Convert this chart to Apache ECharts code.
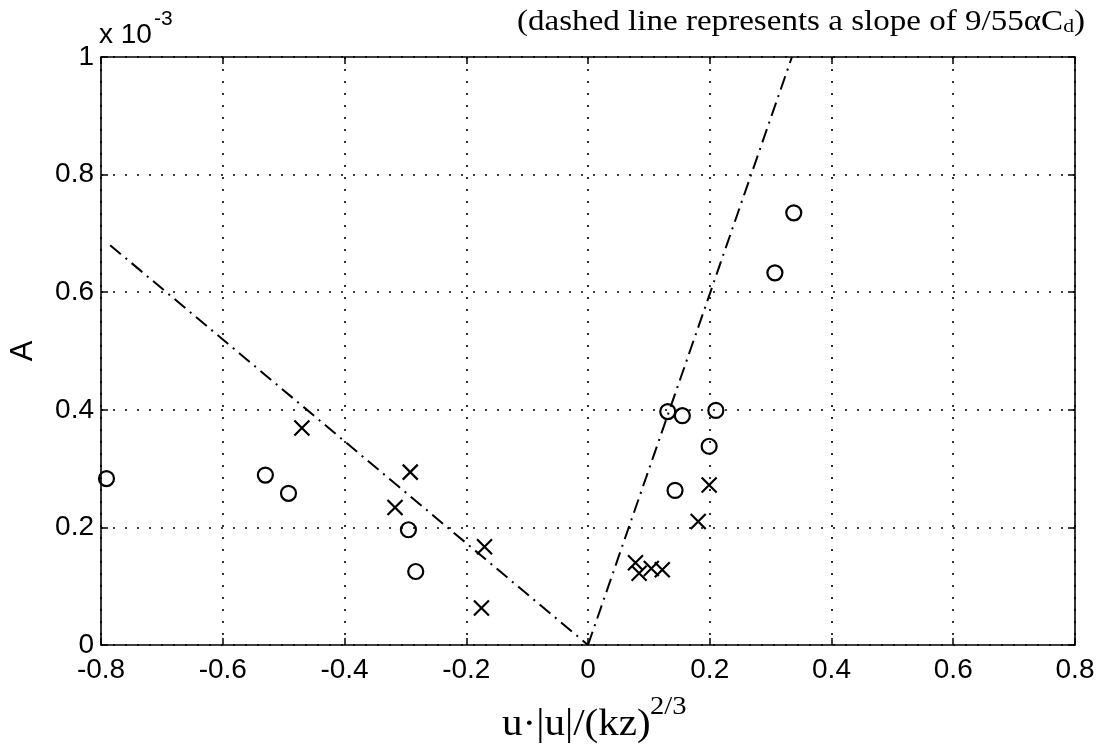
<!DOCTYPE html>
<html>
<head>
<meta charset="utf-8">
<script src="https://cdn.jsdelivr.net/npm/echarts@6/dist/echarts.min.js"></script>
<style>
html,body{margin:0;padding:0;background:#fff;}
#chart{width:1102px;height:752px;}
</style>
</head>
<body>
<div id="chart"></div>
<script>
// Values of A are in units of 1e-3
const xTicks = [-0.8, -0.6, -0.4, -0.2, 0, 0.2, 0.4, 0.6, 0.8];
const yTicks = [0, 0.2, 0.4, 0.6, 0.8, 1];
const circleX = [-0.791, -0.530, -0.492, -0.295, -0.283, 0.131, 0.155, 0.210, 0.199, 0.143, 0.307, 0.338];
const circleY = [0.283, 0.289, 0.258, 0.196, 0.125, 0.397, 0.390, 0.399, 0.338, 0.263, 0.633, 0.735];
const crossX = [-0.470, -0.292, -0.317, -0.170, -0.175, 0.199, 0.181, 0.078, 0.084, 0.104, 0.122];
const crossY = [0.369, 0.294, 0.234, 0.167, 0.063, 0.272, 0.210, 0.140, 0.122, 0.130, 0.128];
const leftLineX = [-0.785, 0];
const leftLineY = [0.680, 0];
const rightLineX = [0, 0.335];
const rightLineY = [0, 1.0];

const zip = (a, b) => a.map((v, i) => [v, b[i]]);

const chart = echarts.init(document.getElementById('chart'), null, {renderer: 'canvas'});
const gridDots = {color: '#000', width: 1.6, type: [2, 10]};
const tickFont = {color: '#000', fontSize: 28, fontFamily: 'Liberation Sans, Arial, sans-serif'};
const tickStyle = {show: true, inside: true, length: 7, lineStyle: {color: '#000', width: 1.5}};
const fmt = v => String(+v.toFixed(1));

chart.setOption({
  animation: false,
  backgroundColor: '#fff',
  grid: {left: 97, right: 27, top: 57, bottom: 107, show: true, borderColor: '#000', borderWidth: 1.6, backgroundColor: 'transparent'},
  xAxis: [{
    type: 'value', min: -0.8, max: 0.8, interval: 0.2,
    axisLine: {show: false, onZero: false},
    axisTick: tickStyle,
    axisLabel: Object.assign({margin: 11, formatter: fmt}, tickFont),
    splitLine: {show: true, lineStyle: gridDots}
  }, {
    type: 'value', position: 'top', min: -0.8, max: 0.8, interval: 0.2,
    axisLine: {show: false, onZero: false},
    axisTick: tickStyle,
    axisLabel: {show: false}, splitLine: {show: false}
  }],
  yAxis: [{
    type: 'value', position: 'left', min: 0, max: 1, interval: 0.2,
    name: 'A', nameLocation: 'middle', nameGap: 62, nameRotate: 90,
    nameTextStyle: {color: '#000', fontSize: 31, fontFamily: 'Liberation Sans, Arial, sans-serif'},
    axisLine: {show: false, onZero: false},
    axisTick: tickStyle,
    axisLabel: Object.assign({margin: 7, formatter: fmt}, tickFont),
    splitLine: {show: true, lineStyle: gridDots}
  }, {
    type: 'value', position: 'right', min: 0, max: 1, interval: 0.2,
    axisLine: {show: false, onZero: false},
    axisTick: tickStyle,
    axisLabel: {show: false}, splitLine: {show: false}
  }],
  series: [
    {
      type: 'line', data: zip(leftLineX, leftLineY), symbol: 'none', silent: true,
      lineStyle: {color: '#000', width: 2, type: [14, 6, 2, 6]}
    },
    {
      type: 'line', data: zip(rightLineX, rightLineY), symbol: 'none', silent: true,
      lineStyle: {color: '#000', width: 2, type: [14, 6, 2, 6]}
    },
    {
      type: 'scatter', data: zip(circleX, circleY), symbol: 'circle', symbolSize: 15,
      itemStyle: {color: 'rgba(0,0,0,0)', borderColor: '#000', borderWidth: 2.2, opacity: 1}
    },
    {
      type: 'scatter', data: zip(crossX, crossY), symbol: 'path://M0,0L10,10M10,0L0,10', symbolSize: 15,
      itemStyle: {color: 'rgba(0,0,0,0)', borderColor: '#000', borderWidth: 2.2, opacity: 1}
    }
  ],
  graphic: [
    {type: 'text', left: 99, top: 21, style: {text: 'x 10', fontSize: 28, fontFamily: 'Liberation Sans, Arial, sans-serif', fill: '#000'}},
    {type: 'text', left: 154, top: 9, style: {text: '-3', fontSize: 21, fontFamily: 'Liberation Sans, Arial, sans-serif', fill: '#000'}},
    {type: 'text', x: 1085, y: 8, scaleX: 1.14, style: {
      text: '(dashed line represents a slope of 9/55αC{s|d})',
      align: 'right', verticalAlign: 'top',
      fontSize: 29, fontFamily: 'Liberation Serif, Times New Roman, serif', fill: '#000',
      rich: {s: {fontSize: 19, fontFamily: 'Liberation Serif, Times New Roman, serif', padding: [10, 0, 0, 0]}}
    }},
    {type: 'text', x: 502, y: 706, scaleX: 1.08, style: {text: 'u·|u|/(kz)', fontSize: 38, fontFamily: 'Liberation Serif, Times New Roman, serif', fill: '#000'}},
    {type: 'text', x: 650, y: 694, scaleX: 1.1, style: {text: '2/3', fontSize: 26, fontFamily: 'Liberation Serif, Times New Roman, serif', fill: '#000'}}
  ]
});
</script>
</body>
</html>
